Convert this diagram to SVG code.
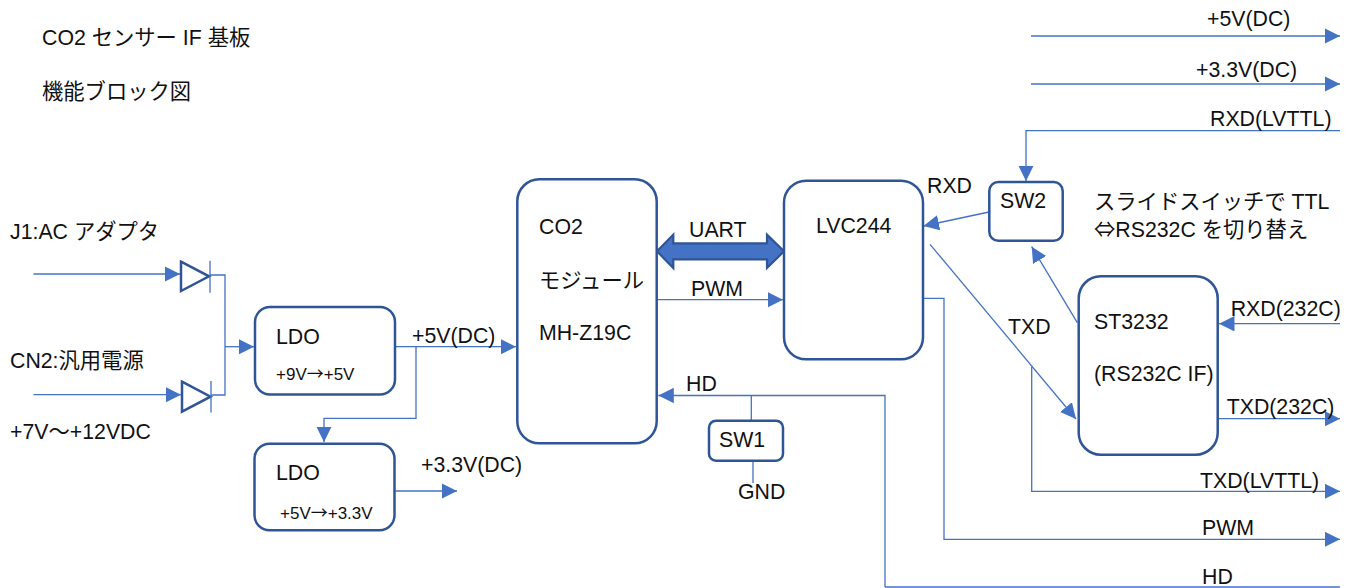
<svg xmlns="http://www.w3.org/2000/svg" width="1353" height="588" viewBox="0 0 1353 588">
<style>
text{font-family:"Liberation Sans","Noto Sans CJK JP",sans-serif;font-size:21.300px;fill:#111}
text.s{font-size:17px}
tspan.j{font-family:"Noto Sans CJK JP",sans-serif}
.b{fill:#fff;stroke:#2f5597;stroke-width:2.500}
.c{fill:none;stroke:#4472c4;stroke-width:1.300}
.a{marker-end:url(#ah)}
</style>
<defs>
<marker id="ah" markerUnits="userSpaceOnUse" markerWidth="16" markerHeight="16" refX="15.500" refY="7.700" orient="auto"><path d="M0 0L15.500 7.700L0 15.400z" fill="#4472c4"/></marker>
</defs>
<rect width="1353" height="588" fill="#fff"/>
<g id="connectors">
<path class="c a" d="M33.500 274H180"/>
<path class="c a" d="M33.500 394.700H181"/>
<path class="c" d="M210 275H225V395H211"/>
<path class="c a" d="M225 346.700H254"/>
<path class="c a" d="M395 346.700H516"/>
<path class="c a" d="M416 346.700V418.300H324V442"/>
<path class="c a" d="M395 491H457"/>
<path class="c a" d="M657 299.700H783"/>
<path class="c a" d="M885 587V395.500H658.300"/>
<path class="c" d="M751.300 395.500V420.700"/>
<path class="c" d="M753 460.700V483"/>
<path class="c" d="M885 587H1340"/>
<path class="c a" d="M923 298.300H944V539.300H1340"/>
<path class="c a" d="M1340 130.700H1026V181"/>
<path class="c a" d="M989 212L923.500 226"/>
<path class="c a" d="M1077.300 322.700L1031.700 246.700"/>
<path class="c a" d="M930 244.300L1076 419"/>
<path class="c a" d="M1031.700 366.700V491.300H1340"/>
<path class="c a" d="M1340 323.700H1219"/>
<path class="c a" d="M1218 418.700H1340"/>
<path class="c a" d="M1031 36H1340"/>
<path class="c a" d="M1031 84H1340"/>
<path id="uart" d="M657 251.300L673.300 234.600V243.300H767V234.600L784 251.300L767 268V259.300H673.300V268z" fill="#4472c4" stroke="#2f5597" stroke-width="2.200"/>
</g>
<g id="diode1"><path d="M181 261.700L209 276.300L181 291z" fill="#fff" stroke="#2f5597" stroke-width="2.500"/><path class="c" d="M210 260.700V292.700"/></g>
<g id="diode2"><path d="M182 381.700L210.500 396.700L182 411.700z" fill="#fff" stroke="#2f5597" stroke-width="2.500"/><path class="c" d="M211 381V412.500"/></g>
<g id="ldo1"><rect class="b" x="255" y="307" width="140" height="87.500" rx="15"/><text x="276" y="344">LDO</text><text class="s" x="276" y="380">+9V<tspan class="j">→</tspan>+5V</text></g>
<g id="ldo2"><rect class="b" x="254.500" y="443.700" width="140" height="86.500" rx="15"/><text x="276" y="480">LDO</text><text class="s" x="280" y="519">+5V<tspan class="j">→</tspan>+3.3V</text></g>
<g id="co2"><rect class="b" x="517.300" y="179.300" width="139.400" height="264" rx="22"/><text x="539" y="234">CO2</text><text x="539" y="287.500">モジュール</text><text x="539" y="340">MH-Z19C</text></g>
<g id="lvc244"><rect class="b" x="784" y="180.700" width="139" height="178.600" rx="22"/><text x="816" y="232.700">LVC244</text></g>
<g id="sw1"><rect class="b" x="709" y="420.700" width="74" height="40" rx="7"/><text x="719" y="447">SW1</text></g>
<g id="sw2"><rect class="b" x="989.300" y="182" width="73.400" height="58.700" rx="9"/><text x="1000" y="207.700">SW2</text></g>
<g id="st3232"><rect class="b" x="1078.700" y="276.300" width="139" height="178.400" rx="22"/><text x="1094" y="328.700">ST3232</text><text x="1094" y="380.700">(RS232C IF)</text></g>
<g id="labels">
<text x="42" y="45">CO2 センサー IF 基板</text>
<text x="42" y="99">機能ブロック図</text>
<text x="10" y="239">J1:AC アダプタ</text>
<text x="10" y="368">CN2:汎用電源</text>
<text x="10" y="439">+7V〜+12VDC</text>
<text x="412" y="343">+5V(DC)</text>
<text x="421" y="472">+3.3V(DC)</text>
<text x="689" y="236.700">UART</text>
<text x="691" y="296">PWM</text>
<text x="686" y="391">HD</text>
<text x="738" y="499">GND</text>
<text x="927" y="192.700">RXD</text>
<text x="1008" y="333.700">TXD</text>
<text x="1094" y="209">スライドスイッチで TTL</text>
<text x="1094" y="236.700"><tspan class="j">⇔</tspan>RS232C を切り替え</text>
<text x="1230.700" y="316">RXD(232C)</text>
<text x="1226.700" y="414">TXD(232C)</text>
<text x="1200" y="488">TXD(LVTTL)</text>
<text x="1202" y="535">PWM</text>
<text x="1202" y="584">HD</text>
<text x="1210" y="126">RXD(LVTTL)</text>
<text x="1207" y="26">+5V(DC)</text>
<text x="1196" y="77">+3.3V(DC)</text>
</g>
</svg>
